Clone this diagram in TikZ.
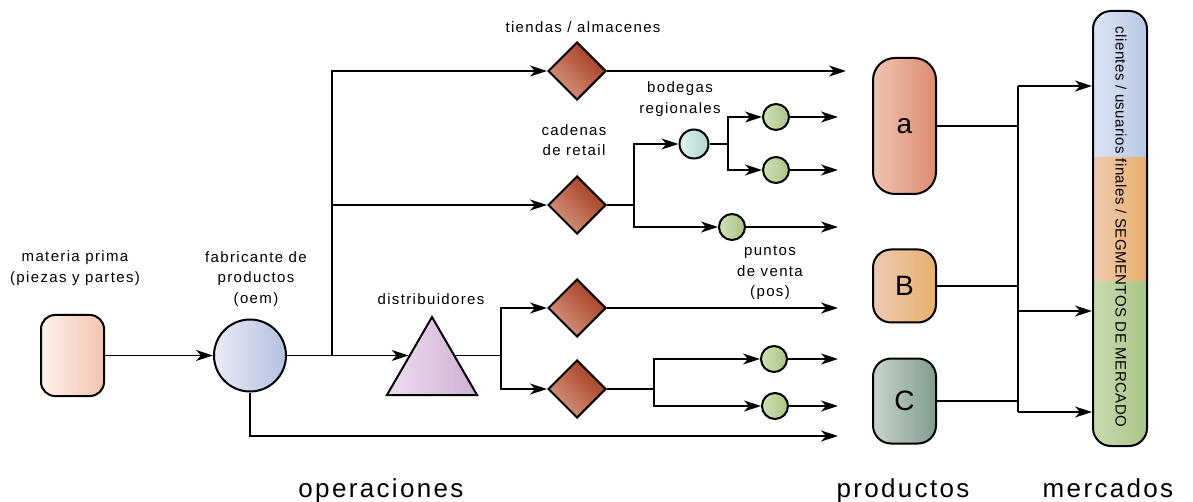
\documentclass[tikz,border=0pt]{standalone}
\usepackage{fontspec}
\setmainfont{Liberation Sans}[LetterSpace=9]
\newfontfamily\plainsans{Liberation Sans}
\newfontfamily\barsans{Liberation Sans}[LetterSpace=3]
\usetikzlibrary{shapes.geometric,arrows.meta,calc}

\definecolor{mpL}{HTML}{FDF0EA}\definecolor{mpR}{HTML}{F3C4AE}
\definecolor{oemL}{HTML}{E8EBF6}\definecolor{oemR}{HTML}{B4BFE0}
\definecolor{triL}{HTML}{ECDEEE}\definecolor{triR}{HTML}{D0AFD4}
\definecolor{dmDark}{HTML}{A53A1E}\definecolor{dmLight}{HTML}{D6977E}
\definecolor{bodL}{HTML}{E5F3F1}\definecolor{bodR}{HTML}{A7D5CE}
\definecolor{grL}{HTML}{D2E1B6}\definecolor{grR}{HTML}{A9C284}
\definecolor{aL}{HTML}{EEC4AE}\definecolor{aR}{HTML}{DC8C70}
\definecolor{bL}{HTML}{F0C9B2}\definecolor{bR}{HTML}{E6B06C}
\definecolor{cL}{HTML}{C8D4CE}\definecolor{cR}{HTML}{7F9D8B}
\definecolor{blL}{HTML}{DBE5F3}\definecolor{blR}{HTML}{B6C8E5}
\definecolor{orL}{HTML}{F2CBB0}\definecolor{orR}{HTML}{E5AE6A}
\definecolor{gnL}{HTML}{C9DCB0}\definecolor{gnR}{HTML}{A7C486}

\tikzset{
  shp/.style={draw=black, line width=2pt, inner sep=0pt},
  rbox/.style={shp, rectangle, rounded corners=#1},
  rbox/.default=14pt,
  rnd/.style={shp, circle, minimum size=#1},
  dmd/.style={shp, diamond, minimum width=58pt, minimum height=58pt,
    top color=dmDark, bottom color=dmLight, shading angle=-45},
  small/.style={rnd=26pt, left color=grL, right color=grR},
  lbl/.style={align=center, font=\fontsize{15}{20.5}\selectfont},
  big/.style={anchor=base, font=\fontsize{26}{30}\selectfont},
  prodlbl/.style={font=\plainsans\fontsize{28}{30}\selectfont},
  conn/.style={line width=1.3pt},
  arr/.style={conn, -{Stealth[length=17pt,width=11pt,inset=5pt]}}
}

\begin{document}
\begin{tikzpicture}[x=1pt,y=-1pt]
\useasboundingbox (0,0) rectangle (1193,502);

% ---- operations ----
\node[rbox, minimum width=63pt, minimum height=81pt, left color=mpL, right color=mpR] (mp) at (72.5,355.5) {};
\node[lbl] (mpt) at (75,268) {materia prima\\(piezas y partes)};

\node[rnd=72pt, left color=oemL, right color=oemR] (oem) at (250,355.5) {};
\node[lbl] (oemt) at (256,279) {fabricante de\\productos\\(oem)};

\node[shp, regular polygon, regular polygon sides=3, minimum size=104pt,
      left color=triL, right color=triR] (tri) at (432,369) {};
\node[lbl] (trit) at (431,299) {distribuidores};

\node[dmd] (d1) at (577,71) {};
\node[lbl] (d1t) at (583,27) {tiendas / almacenes};
\node[dmd] (d2) at (577,205) {};
\node[lbl] (d2t) at (574,140) {cadenas\\de retail};
\node[dmd] (d3) at (577,308) {};
\node[dmd] (d4) at (577,389) {};

\node[rnd=29pt, left color=bodL, right color=bodR] (bod) at (694,144) {};
\node[lbl] (bodt) at (680,99) {bodegas\\regionales};
\node[small] (g1) at (776,117) {};
\node[small] (g2) at (776,170) {};
\node[small] (pv) at (732,227) {};
\node[lbl] (pvt) at (770,273) {puntos\\de venta\\(pos)};
\node[small] (g3) at (774,359) {};
\node[small] (g4) at (775,406) {};

% ---- connectors ----
\coordinate (t) at (332,355.5);
\coordinate (tin) at ($(tri.corner 1)!0.5!(tri.corner 2)$);
\coordinate (tout) at ($(tri.corner 1)!0.5!(tri.corner 3)$);
\draw[arr] (mp.east) -- (oem.west);
\draw[conn] (oem.east) -- (t);
\draw[arr] (t) -- (tin);
\draw[arr] (t) |- (d1.west);
\draw[arr] (t) |- (d2.west);

\coordinate (j2) at (634,205);
\draw[conn] (d2.east) -- (j2);
\draw[arr] (j2) |- (bod.west);
\draw[arr] (j2) |- (pv.west);

\coordinate (j3) at (728,144);
\draw[conn] (bod.east) -- (j3);
\draw[arr] (j3) |- (g1.west);
\draw[arr] (j3) |- (g2.west);

\coordinate (j4) at (501,355.5);
\draw[conn] (tout) -- (j4);
\draw[arr] (j4) |- (d3.west);
\draw[arr] (j4) |- (d4.west);

\coordinate (j5) at (654,389);
\draw[conn] (d4.east) -- (j5);
\draw[arr] (j5) |- (g3.west);
\draw[arr] (j5) |- (g4.west);

% free ends towards the products column
\coordinate (e1) at (846,71);
\coordinate (e2) at (838,117);
\coordinate (e3) at (838,170);
\coordinate (e4) at (838,227);
\coordinate (e5) at (838,308);
\coordinate (e6) at (838,359);
\coordinate (e7) at (838,406);
\coordinate (e8) at (838,436);
\draw[arr] (d1.east) -- (e1);
\draw[arr] (g1.east) -- (e2);
\draw[arr] (g2.east) -- (e3);
\draw[arr] (pv.east) -- (e4);
\draw[arr] (d3.east) -- (e5);
\draw[arr] (g3.east) -- (e6);
\draw[arr] (g4.east) -- (e7);
\draw[arr] (oem.south) |- (e8);

% ---- products ----
\node[rbox=22pt, minimum width=63pt, minimum height=136pt, left color=aL, right color=aR,
      prodlbl] (pa) at (904.5,126) {a};
\node[rbox=18pt, minimum width=63pt, minimum height=73pt, left color=bL, right color=bR,
      prodlbl] (pb) at (904.5,286) {B};
\node[rbox=18pt, minimum width=63pt, minimum height=85pt, left color=cL, right color=cR,
      prodlbl] (pc) at (904.5,401) {C};

% ---- markets bar ----
\begin{scope}
  \clip[rounded corners=18pt] (1093,11) rectangle (1147,446);
  \shade[left color=blL, right color=blR] (1093,11) rectangle (1147,158);
  \shade[left color=orL, right color=orR] (1093,158) rectangle (1147,282);
  \shade[left color=gnL, right color=gnR] (1093,282) rectangle (1147,446);
\end{scope}
\node[rbox=18pt, minimum width=54pt, minimum height=435pt] (bar) at (1120,228.5) {};
\node[rotate=-90, font=\barsans\fontsize{15}{16}\selectfont] (bart) at (1121,227)
  {clientes / usuarios finales / SEGMENTOS DE MERCADO};

\coordinate (m1) at (1018,86);
\coordinate (m2) at (1018,311);
\coordinate (m3) at (1018,412);
\draw[conn] (m1) -- (m3);
\draw[conn] (pa.east) -- (pa.east -| m1);
\draw[conn] (pb.east) -- (pb.east -| m1);
\draw[conn] (pc.east) -- (pc.east -| m1);
\draw[arr] (m1) -- (m1 -| bar.west);
\draw[arr] (m2) -- (m2 -| bar.west);
\draw[arr] (m3) -- (m3 -| bar.west);

% ---- column titles ----
\node[big] (op) at (381,497) {operaciones};
\node[big] (pr) at (903,497) {productos};
\node[big] (me) at (1108,497) {mercados};
\end{tikzpicture}
\end{document}
